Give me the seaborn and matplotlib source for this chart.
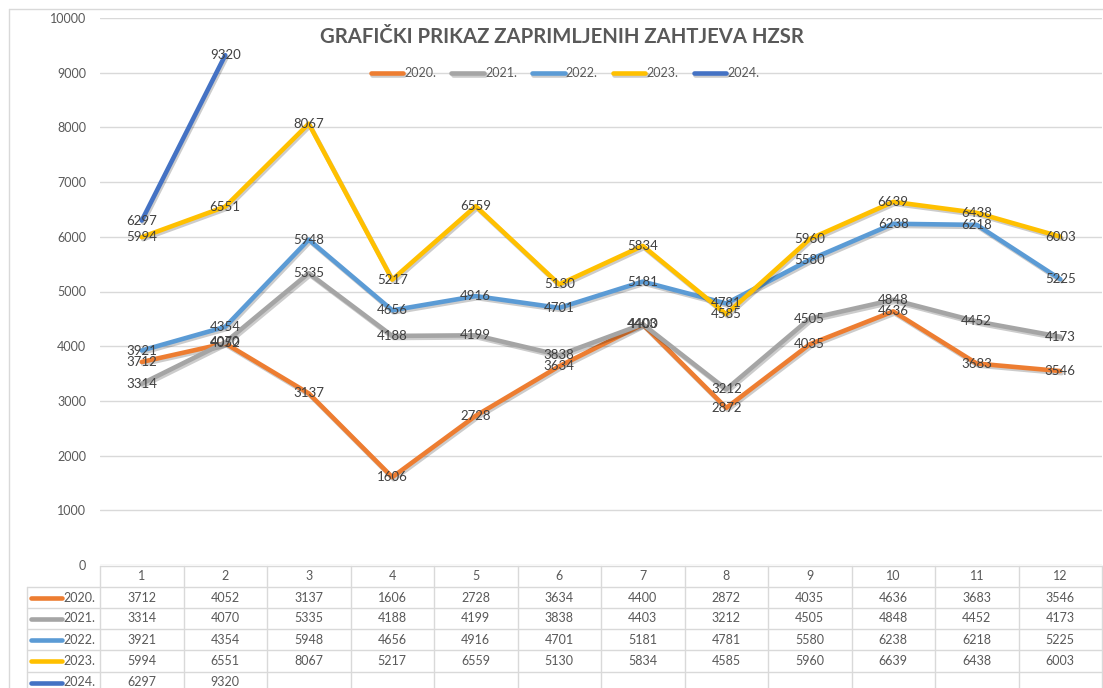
import numpy as np
import pandas as pd
import matplotlib
matplotlib.use("Agg")
import matplotlib.pyplot as plt
import matplotlib.patheffects as pe
import seaborn as sns

months = [1, 2, 3, 4, 5, 6, 7, 8, 9, 10, 11, 12]
years = ['2020.', '2021.', '2022.', '2023.', '2024.']
y2020 = [3712, 4052, 3137, 1606, 2728, 3634, 4400, 2872, 4035, 4636, 3683, 3546]
y2021 = [3314, 4070, 5335, 4188, 4199, 3838, 4403, 3212, 4505, 4848, 4452, 4173]
y2022 = [3921, 4354, 5948, 4656, 4916, 4701, 5181, 4781, 5580, 6238, 6218, 5225]
y2023 = [5994, 6551, 8067, 5217, 6559, 5130, 5834, 4585, 5960, 6639, 6438, 6003]
y2024 = [6297, 9320]
series = [y2020, y2021, y2022, y2023, y2024]
colors = ['#ED7D31', '#A5A5A5', '#5B9BD5', '#FFC000', '#4472C4']

rows = []
for yr, vals in zip(years, series):
    for m, v in zip(months, vals):
        rows.append({'month': m, 'value': v, 'year': yr})
df = pd.DataFrame(rows)

sns.set_style("white")
plt.rcParams['font.family'] = ['Lato', 'DejaVu Sans']
txt_col = '#595959'

W, H = 1103, 688
fig = plt.figure(figsize=(W / 100, H / 100), dpi=100)
ax = fig.add_axes([100 / W, 1 - 565 / H, 1002 / W, 547 / H])

shadow = [pe.SimpleLineShadow(offset=(1, -1.5), alpha=0.2, shadow_color='k'), pe.Normal()]
sns.lineplot(data=df, x='month', y='value', hue='year', palette=colors,
             linewidth=3.3, ax=ax, legend=True)
for ln in ax.get_lines():
    ln.set_path_effects(shadow)

# data labels centred on points
for vals in series:
    for m, v in zip(months, vals):
        ax.text(m, v, str(v), ha='center', va='center', fontsize=9.5, color='#404040', zorder=5)

ax.set_xlim(0.5, 12.5)
ax.set_ylim(0, 10000)
ax.set_yticks(range(0, 10001, 1000))
ax.set_xticks([])
ax.set_xlabel('')
ax.set_ylabel('')
ax.tick_params(axis='y', length=0, pad=10, labelsize=9, labelcolor=txt_col)
ax.grid(axis='y', color='#d9d9d9', linewidth=1)
for s in ax.spines.values():
    s.set_visible(False)

leg = ax.legend(loc='center', bbox_to_anchor=(565 / W, 1 - 73 / H), bbox_transform=fig.transFigure,
                ncol=5, frameon=False, fontsize=9, handlelength=2.6, handletextpad=0.1,
                columnspacing=1.2)
for t in leg.get_texts():
    t.set_color(txt_col)
for h in leg.legend_handles:
    h.set_linewidth(3.3)

fig.text(562 / W, 1 - 37 / H, 'GRAFIČKI PRIKAZ ZAPRIMLJENIH ZAHTJEVA HZSR',
         ha='center', va='center', fontsize=14.6, fontweight='bold', color=txt_col)

# data table below the plot, in pixel coordinates
tab = fig.add_axes([0, 0, 1, 1], facecolor='none')
tab.set_xlim(0, W)
tab.set_ylim(H, 0)
tab.axis('off')
gc = '#d9d9d9'
col_w = 1002 / 12
x0 = 100
row_y = [566, 587, 608, 629, 650, 672, 693]
tab.plot([9, W + 5], [9, 9], color=gc, lw=1)
tab.plot([9, 9], [9, H + 5], color=gc, lw=1)
tab.plot([x0, W], [row_y[0], row_y[0]], color=gc, lw=1)
for yy in row_y[1:]:
    tab.plot([27, W], [yy, yy], color=gc, lw=1)
tab.plot([27, 27], [row_y[1], H], color=gc, lw=1)
for i in range(13):
    tab.plot([x0 + i * col_w] * 2, [row_y[0], H], color=gc, lw=1)
for i, m in enumerate(months):
    tab.text(x0 + (i + 0.5) * col_w, (row_y[0] + row_y[1]) / 2, str(m),
             ha='center', va='center', fontsize=9, color=txt_col)
for r, (yr, vals, c) in enumerate(zip(years, series, colors)):
    yc = (row_y[r + 1] + row_y[r + 2]) / 2
    tab.plot([31, 62], [yc, yc], color=c, lw=3.3, solid_capstyle='round')
    tab.text(63, yc, yr, ha='left', va='center', fontsize=9, color=txt_col)
    for i, v in enumerate(vals):
        tab.text(x0 + (i + 0.5) * col_w, yc, str(v), ha='center', va='center',
                 fontsize=9, color=txt_col)

plt.savefig('out.png', dpi=100)
